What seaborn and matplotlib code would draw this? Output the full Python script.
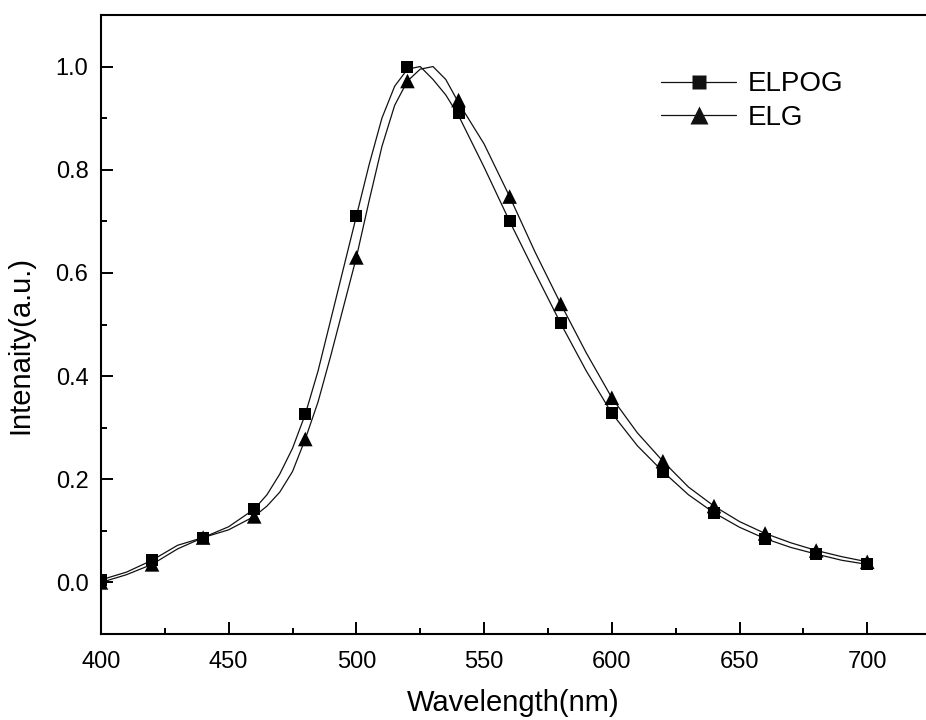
import matplotlib
matplotlib.use("Agg")
import matplotlib.pyplot as plt
from matplotlib.lines import Line2D
from matplotlib.ticker import MultipleLocator
import seaborn as sns
import pandas as pd

# marker data (sampled every 20 nm)
wl_pts = [400, 420, 440, 460, 480, 500, 520, 540, 560, 580, 600, 620, 640, 660, 680, 700]
elpog_pts = [0.005, 0.043, 0.087, 0.142, 0.326, 0.71, 1.0, 0.91, 0.70, 0.502, 0.328, 0.215, 0.135, 0.085, 0.055, 0.035]
elg_pts = [0.0, 0.035, 0.087, 0.128, 0.278, 0.63, 0.972, 0.935, 0.748, 0.54, 0.358, 0.235, 0.148, 0.095, 0.062, 0.04]

# spectral curves
wl_curve_pog = [400, 410, 420, 430, 440, 450, 460, 465, 470, 475, 480, 485, 490, 495, 500, 505, 510, 515, 520, 525, 530, 535, 540, 550, 560, 570, 580, 590, 600, 610, 620, 630, 640, 650, 660, 670, 680, 690, 700]
elpog_curve = [0.005, 0.02, 0.043, 0.072, 0.087, 0.108, 0.142, 0.17, 0.21, 0.26, 0.326, 0.41, 0.51, 0.61, 0.71, 0.81, 0.90, 0.962, 0.995, 1.0, 0.975, 0.945, 0.905, 0.805, 0.70, 0.60, 0.502, 0.41, 0.328, 0.265, 0.215, 0.17, 0.135, 0.107, 0.085, 0.068, 0.055, 0.043, 0.035]
wl_curve_g = [400, 410, 420, 430, 440, 450, 460, 465, 470, 475, 480, 485, 490, 495, 500, 505, 510, 515, 520, 525, 530, 535, 540, 550, 560, 570, 580, 590, 600, 610, 620, 630, 640, 650, 660, 670, 680, 690, 700]
elg_curve = [0.0, 0.015, 0.035, 0.065, 0.087, 0.102, 0.128, 0.148, 0.175, 0.215, 0.278, 0.35, 0.44, 0.535, 0.63, 0.74, 0.845, 0.925, 0.972, 0.995, 1.0, 0.975, 0.93, 0.85, 0.748, 0.64, 0.54, 0.445, 0.358, 0.29, 0.235, 0.185, 0.148, 0.118, 0.095, 0.077, 0.062, 0.05, 0.04]

x_ticks = [400, 450, 500, 550, 600, 650, 700]
y_ticks = [0.0, 0.2, 0.4, 0.6, 0.8, 1.0]

sns.set_theme(style="white")
plt.rcParams['font.family'] = ['Liberation Sans', 'DejaVu Sans']
plt.rcParams['text.color'] = 'black'
plt.rcParams['axes.labelcolor'] = 'black'
plt.rcParams['xtick.color'] = 'black'
plt.rcParams['ytick.color'] = 'black'

fig = plt.figure(figsize=(9.26, 7.2), dpi=100)
ax = fig.add_axes([0.109, 0.1194, 0.891, 0.8598])

df_pog = pd.DataFrame({"wl": wl_curve_pog, "I": elpog_curve})
df_g = pd.DataFrame({"wl": wl_curve_g, "I": elg_curve})
sns.lineplot(data=df_pog, x="wl", y="I", ax=ax, color="#111111", lw=0.9, sort=False)
sns.lineplot(data=df_g, x="wl", y="I", ax=ax, color="#111111", lw=0.9, sort=False)

dp = pd.DataFrame({"wl": wl_pts, "ELPOG": elpog_pts, "ELG": elg_pts})
sns.scatterplot(data=dp, x="wl", y="ELPOG", ax=ax, marker="s", s=75, color="black", edgecolor="none", zorder=3)
sns.scatterplot(data=dp, x="wl", y="ELG", ax=ax, marker="^", s=110, color="black", edgecolor="none", zorder=3)

ax.set_xlim(400, 723)
ax.set_ylim(-0.1, 1.1)
ax.set_xticks(x_ticks)
ax.set_yticks(y_ticks)
ax.set_xticklabels([str(t) for t in x_ticks])
ax.set_yticklabels([f"{t:.1f}" for t in y_ticks])
ax.xaxis.set_minor_locator(MultipleLocator(25))
ax.yaxis.set_minor_locator(MultipleLocator(0.1))
ax.tick_params(which="major", direction="in", length=8.6, width=1.4, labelsize=17, colors="black")
ax.tick_params(axis="x", which="major", pad=12)
ax.tick_params(axis="y", which="major", pad=9)
ax.tick_params(which="minor", direction="in", length=4.3, width=1.4, colors="black")
ax.tick_params(top=False, right=False, which="both", bottom=True, left=True)
for side in ["left", "bottom", "top"]:
    ax.spines[side].set_linewidth(1.5)
    ax.spines[side].set_color("black")
ax.spines["right"].set_visible(False)

ax.set_xlabel("Wavelength(nm)", fontsize=21, labelpad=12, color="black")
ax.set_ylabel("Intenaity(a.u.)", fontsize=21, color="black")
ax.yaxis.set_label_coords(-0.081, 0.467)

handles = [
    Line2D([], [], color="#111111", lw=0.9, marker="s", markersize=10, markeredgecolor="none"),
    Line2D([], [], color="#111111", lw=0.9, marker="^", markersize=13, markeredgecolor="none"),
]
leg = ax.legend(handles, ["ELPOG", "ELG"], loc="upper left", bbox_to_anchor=(0.679, 0.909),
                frameon=False, fontsize=20, handlelength=2.7, handletextpad=0.4,
                labelspacing=0.26, borderaxespad=0, borderpad=0)
for t in leg.get_texts():
    t.set_color("black")

fig.savefig("out.png", dpi=100)
